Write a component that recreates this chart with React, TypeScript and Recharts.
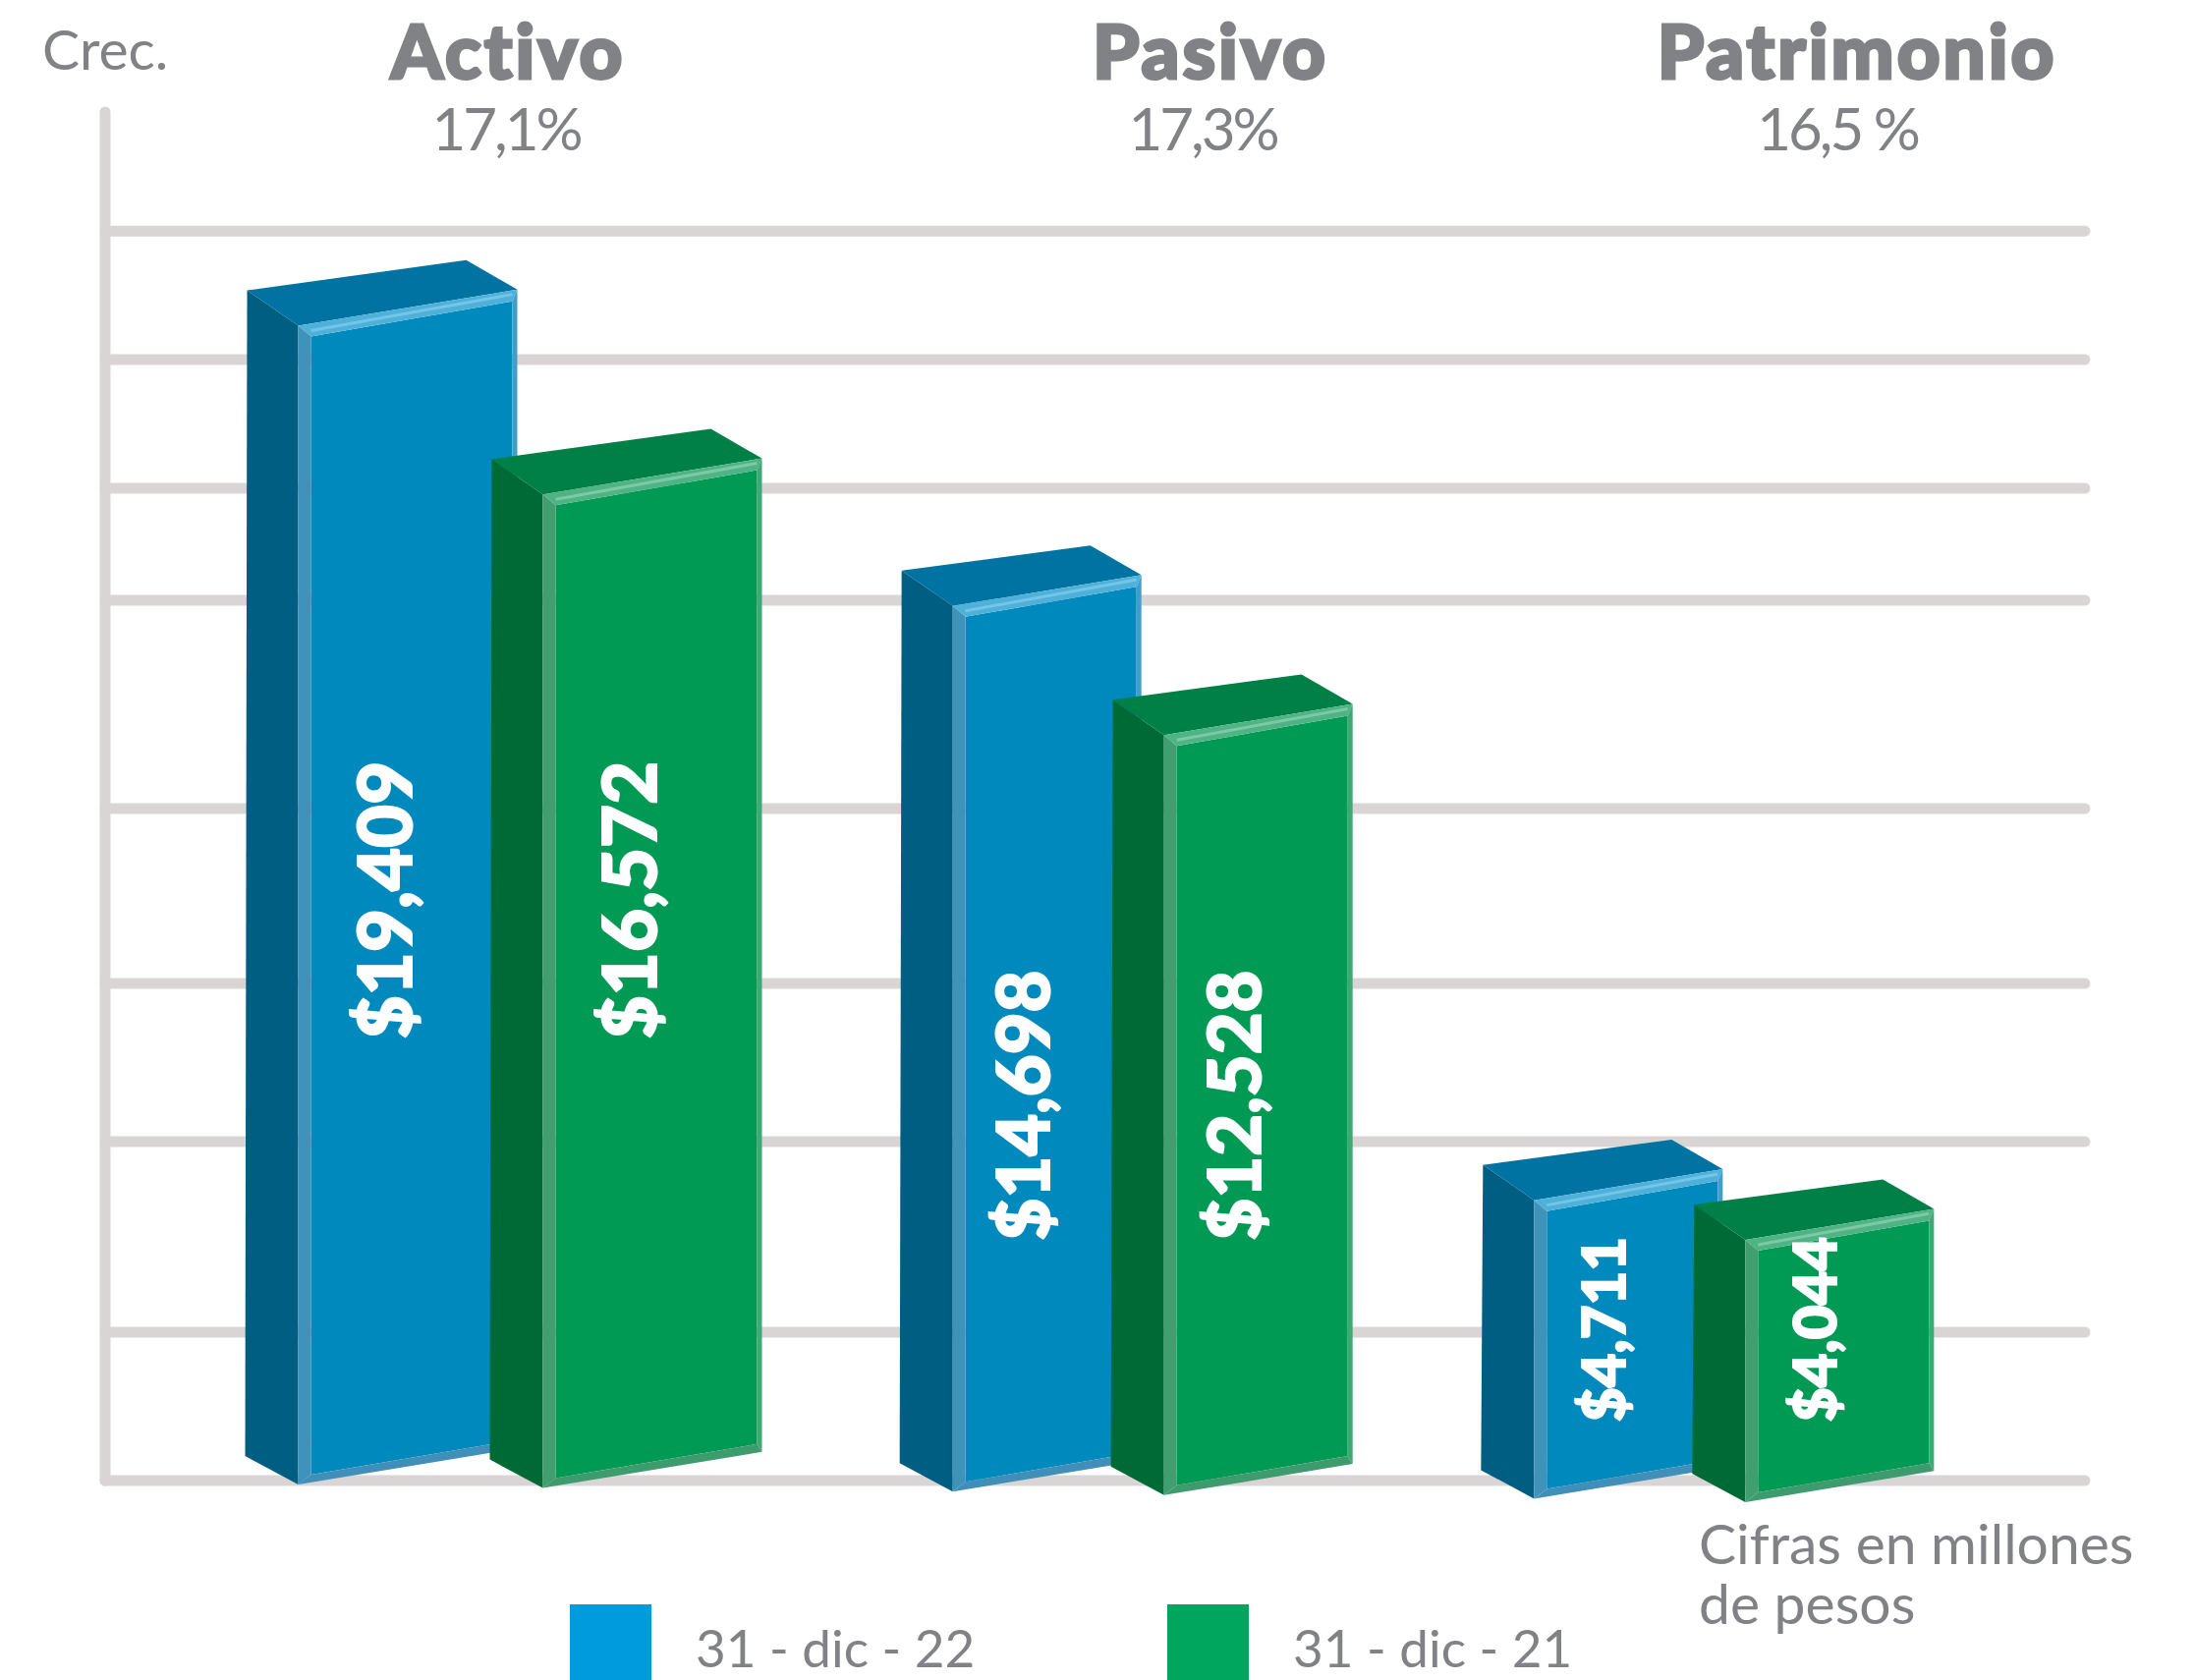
import { BarChart, Bar, XAxis, YAxis, ReferenceLine, Legend, Customized } from "recharts";

const categories = ["Activo", "Pasivo", "Patrimonio"];
const growth = ["17,1%", "17,3%", "16,5 %"];
const values22 = [19409, 14698, 4711];
const values21 = [16572, 12528, 4044];
const seriesNames = ["31 - dic - 22", "31 - dic - 21"];
// unlabelled rules of the picture, unevenly spaced
const gridValues = [0, 2493, 5696, 8354, 11293, 14793, 16675, 18838, 21000];

const data = categories.map((name, i) => ({ name, d22: values22[i], d21: values21[i] }));

const WIDTH = 2233;
const HEIGHT = 1710;
const GREY = "#808285";
const RULE = "#d9d5d5";
const TITLE_FONT = "Lato, 'Open Sans', sans-serif";

const BLUE = {
  front: "#0089bc",
  side: "#005e82",
  top: "#0073a2",
  bevelTop: "#4fb0da",
  shine: "#74c6e8",
  bevelLeft: "#3f93bb",
  bevelRight: "#3f9fca",
  bevelBottom: "#3f8fb8",
  legend: "#009bdd",
};
const GREEN = {
  front: "#009a55",
  side: "#006a36",
  top: "#008047",
  bevelTop: "#4fb384",
  shine: "#7ccaa5",
  bevelLeft: "#3f9f6e",
  bevelRight: "#3fa873",
  bevelBottom: "#3e9b6d",
  legend: "#00a65d",
};

// per group drawing tweaks: Activo is drawn wider, Pasivo sits a bit off its slot
const groupStyle = [
  { barWidth: 275, spread: 17, nudge: 0, labelRise: 591, labelSize: 76 },
  { barWidth: 244, spread: 0, nudge: 21, labelRise: 382, labelSize: 74 },
  { barWidth: 244, spread: 0, nudge: 0, labelRise: 154, labelSize: 60 },
];

const pts = (list: number[][]) => list.map((p) => p.join(",")).join(" ");

function Bar3D(props: any) {
  const { x, y, width, height, index, value, palette, seriesIndex } = props;
  const style = groupStyle[index];
  const shift = (seriesIndex === 0 ? -style.spread : style.spread) + style.nudge;
  const xL = x + width / 2 - style.barWidth / 2 + shift;
  const xR = xL + style.barWidth;
  const xF = xL + 52;
  const slant = (xR - xF) * 0.165;
  const drift = 4 + (index * 2 + seriesIndex) * 3.6;
  const base = y + height;
  const bottom = base + drift;

  const tl = [xF, y];
  const tr = [xR, y - slant];
  const bl = [xF, bottom];
  const br = [xR, bottom - slant];
  const bevL = 13;
  const bevT = 11;
  const bevR = 5;
  const bevB = 8;
  const itl = [xF + bevL, y + bevT];
  const itr = [xR - bevR, y - slant + bevT + 1];
  const ibl = [xF + bevL, bottom - bevB - 2];
  const ibr = [xR - bevR, bottom - slant - bevB];

  const label = `$${Number(Array.isArray(value) ? value[1] : value).toLocaleString("en-US")}`;
  const labelX = (xL + xR) / 2;
  const labelY = base - style.labelRise;

  return (
    <g>
      <polygon
        points={pts([tl, [xL, y - 36], [xL - 2, bottom - 29], bl])}
        fill={palette.side}
      />
      <polygon
        points={pts([tl, tr, [xR - 52, y - slant - 30], [xL, y - 36]])}
        fill={palette.top}
      />
      <polygon points={pts([itl, itr, ibr, ibl])} fill={palette.front} />
      <polygon points={pts([tl, tr, itr, itl])} fill={palette.bevelTop} />
      <line
        x1={xF + bevL}
        y1={y + bevT * 0.45}
        x2={xR - bevR}
        y2={y - slant + bevT * 0.45}
        stroke={palette.shine}
        strokeWidth={3}
      />
      <polygon points={pts([tl, itl, ibl, bl])} fill={palette.bevelLeft} />
      <polygon points={pts([tr, br, ibr, itr])} fill={palette.bevelRight} />
      <polygon points={pts([bl, ibl, ibr, br])} fill={palette.bevelBottom} />
      <text
        transform={`translate(${labelX},${labelY}) rotate(-90)`}
        textAnchor="middle"
        dominantBaseline="central"
        fill="#ffffff"
        stroke="#ffffff"
        strokeWidth={2}
        fontFamily={TITLE_FONT}
        fontWeight={900}
        fontSize={style.labelSize}
      >
        {label}
      </text>
    </g>
  );
}

const titleX = [517, 1232, 1890];
const growthX = [515, 1224, 1870];

function Headings() {
  return (
    <g fill={GREY}>
      <text x={43} y={71} fontFamily={TITLE_FONT} fontWeight={400} fontSize={57}>
        Crec.
      </text>
      {categories.map((name, i) => (
        <text
          key={name}
          x={titleX[i]}
          y={80}
          textAnchor="middle"
          stroke={GREY}
          strokeWidth={3}
          letterSpacing={3}
          fontFamily={TITLE_FONT}
          fontWeight={900}
          fontSize={76}
        >
          {name}
        </text>
      ))}
      {growth.map((g, i) => (
        <text
          key={g}
          x={growthX[i]}
          y={153}
          textAnchor="middle"
          letterSpacing={-3}
          fontFamily={TITLE_FONT}
          fontWeight={400}
          fontSize={60}
        >
          {g}
        </text>
      ))}
      <text x={1729} y={1592} fontFamily={TITLE_FONT} fontWeight={400} fontSize={57}>
        Cifras en millones
      </text>
      <text x={1729} y={1653} fontFamily={TITLE_FONT} fontWeight={400} fontSize={57}>
        de pesos
      </text>
    </g>
  );
}

function LegendBlock() {
  const items = [
    { name: seriesNames[0], color: BLUE.legend, left: 580 },
    { name: seriesNames[1], color: GREEN.legend, left: 1188 },
  ];
  return (
    <div>
      {items.map((it) => (
        <div key={it.name} style={{ position: "absolute", left: it.left, top: 0, display: "flex" }}>
          <div style={{ width: 83, height: 77, background: it.color }} />
          <div
            style={{
              marginLeft: 45,
              marginTop: 10,
              fontFamily: TITLE_FONT,
              fontWeight: 400,
              fontSize: 53,
              lineHeight: "67px",
              color: GREY,
              whiteSpace: "nowrap",
            }}
          >
            {it.name}
          </div>
        </div>
      ))}
    </div>
  );
}

export default function App() {
  return (
    <div style={{ position: "absolute", left: 0, top: 0, width: WIDTH, height: HEIGHT, background: "#fff" }}>
      <BarChart
        width={WIDTH}
        height={HEIGHT}
        data={data}
        margin={{ top: 114, right: 111, bottom: 126, left: 106 }}
        barSize={244}
        barGap={-29}
      >
        <XAxis dataKey="name" hide padding={{ left: 100, right: 77 }} />
        <YAxis
          width={1}
          domain={[0, 23000]}
          tick={false}
          tickLine={false}
          axisLine={{ stroke: RULE, strokeWidth: 11, strokeLinecap: "round" }}
        />
        {gridValues.map((v) => (
          <ReferenceLine
            key={v}
            y={v}
            stroke={RULE}
            strokeWidth={11}
            strokeLinecap="round"
            zIndex={0}
          />
        ))}
        <Legend
          content={<LegendBlock />}
          wrapperStyle={{ position: "absolute", left: 0, top: 1633, width: WIDTH, height: 77 }}
        />
        <Bar
          dataKey="d22"
          name={seriesNames[0]}
          isAnimationActive={false}
          shape={(p: any) => <Bar3D {...p} palette={BLUE} seriesIndex={0} />}
        />
        <Bar
          dataKey="d21"
          name={seriesNames[1]}
          isAnimationActive={false}
          shape={(p: any) => <Bar3D {...p} palette={GREEN} seriesIndex={1} />}
        />
        <Customized component={Headings} />
      </BarChart>
    </div>
  );
}
